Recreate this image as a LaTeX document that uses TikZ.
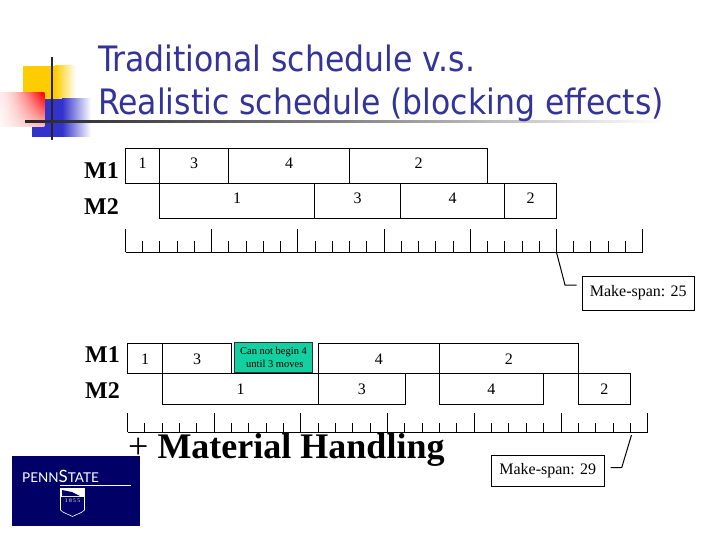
\documentclass[tikz,border=0pt]{standalone}
\usepackage{fontspec}
\setmainfont{Liberation Serif}
\newfontfamily\titlefont{DejaVu Sans Condensed}
\newfontfamily\logofont{Lato}
\definecolor{titleblue}{HTML}{333399}
\definecolor{cellgreen}{HTML}{14CF9F}
\definecolor{psunavy}{HTML}{000066}
\definecolor{decoyellow}{HTML}{FFCC00}
\definecolor{decoblue}{HTML}{3333CC}
\tikzset{
  x=1pt,y=-1pt,
  cellbox/.style={draw=black,line width=1pt,inner sep=0pt,outer sep=0pt,anchor=north west},
  celltext/.style={inner sep=0pt,font=\fontsize{16}{18}\selectfont},
  machine/.style={inner sep=0pt,anchor=west,font=\fontsize{24}{26}\selectfont\bfseries},
  titletext/.style={inner sep=0pt,anchor=base west,text=titleblue,font=\titlefont\fontsize{35}{38}\selectfont},
  spanbox/.style={draw=black,line width=1pt,fill=white,inner sep=0pt,outer sep=0pt,anchor=north west,font=\fontsize{16}{18}\selectfont},
  rule/.style={line width=1pt,draw=black}
}
\newcommand{\cellat}[7]{% name x1 x2 y1 y2 text dy
  \pgfmathsetmacro{\cw}{#3-#2}\pgfmathsetmacro{\ch}{#5-#4}
  \node[cellbox,minimum width=\cw pt,minimum height=\ch pt] (#1) at (#2,#4) {};
  \node[celltext] (#1t) at ([yshift=#7 pt]#1.center) {#6};
}
\newcommand{\rulerat}[7]{% prefix x0 step y majortop minortop n
  \foreach \i in {0,...,#7}{
    \pgfmathsetmacro{\tx}{#2+\i*#3}
    \pgfmathtruncatemacro{\m}{mod(\i,5)}
    \coordinate (#1\i) at (\tx,#4);
    \ifnum\m=0 \coordinate (#1\i top) at (\tx,#5);\else \coordinate (#1\i top) at (\tx,#6);\fi
    \draw[rule] (#1\i) -- (#1\i top);
  }
  \draw[rule] (#10) -- (#1#7);
}
\begin{document}
\begin{tikzpicture}
\useasboundingbox (0,0) rectangle (720,540);
\fill[white] (0,0) rectangle (720,540);
% decoration
\fill[decoyellow] (23,66) rectangle (55,100);
\shade[left color=decoyellow,right color=white] (55,66) rectangle (76,100);
\fill[decoblue] (32,99) rectangle (62,137);
\shade[left color=decoblue,right color=white] (62,99) rectangle (91,137);
\foreach \sx in {0,...,43}{
  \pgfmathsetmacro{\pa}{8+92*(\sx/43)^1.6}
  \pgfmathsetmacro{\pb}{2+22*(\sx/43)}
  \shade[top color=red!\pa!white,bottom color=red!\pb!white] (\sx,93) rectangle ({\sx+1.3},127);
}
\draw[line width=2pt,draw=black!85] (51.5,57) -- (51.5,140);
\shade[left color=black!85,right color=black!50] (25,120.3) rectangle (330,122.7);
\shade[left color=black!50,right color=white] (330,120.3) rectangle (665,122.7);
% title
\node[titletext] (t1) at (98,72) {Traditional schedule v.s.};
\node[titletext] (t2) at (98,115) {Realistic schedule (blocking effects)};
% top chart
\node[machine] (m1a) at (84,170.5) {M1};
\node[machine] (m2a) at (84,206.5) {M2};
\cellat{a1}{125.5}{159.5}{148.5}{183.3}{1}{2.5}
\cellat{a3}{159.5}{228.5}{148.5}{183.3}{3}{2.5}
\cellat{a4}{228.5}{349.5}{148.5}{183.3}{4}{2.5}
\cellat{a2}{349.5}{487.5}{148.5}{183.3}{2}{2.5}
\cellat{b1}{159.5}{314.5}{183.3}{218.3}{1}{2.5}
\cellat{b3}{314.5}{400.5}{183.3}{218.3}{3}{2.5}
\cellat{b4}{400.5}{504.5}{183.3}{218.3}{4}{2.5}
\cellat{b2}{504.5}{556.5}{183.3}{218.3}{2}{2.5}
\rulerat{ra}{125.5}{17.24}{252.3}{229.3}{241}{30}
\node[spanbox,minimum width=112pt,minimum height=34.3pt] (spana) at (582.3,276) {Make-span: 25};
\coordinate (elbowa) at (565,285);
\coordinate (enda) at (576.7,285);
\draw[rule] (ra25) -- (elbowa) -- (enda);
% bottom chart
\node[machine] (m1b) at (85,355) {M1};
\node[machine] (m2b) at (85,391) {M2};
\cellat{c1}{127.5}{162.5}{343.3}{373.3}{1}{-0.5}
\cellat{c3}{162.5}{231.5}{343.3}{373.3}{3}{-0.5}
\cellat{c4}{318.5}{439.3}{343.3}{373.3}{4}{-0.5}
\cellat{c2}{439.3}{578.3}{343.3}{373.3}{2}{-0.5}
\cellat{d1}{162.5}{318.5}{373.3}{404.3}{1}{0}
\cellat{d3}{318.5}{405.3}{373.3}{404.3}{3}{0}
\cellat{d4}{439.3}{543.3}{373.3}{404.3}{4}{0}
\cellat{d2}{578.3}{630.3}{373.3}{404.3}{2}{0}
\node[draw=black!80,line width=1pt,fill=cellgreen,inner sep=0pt,outer sep=0pt,anchor=north west,minimum width=78.4pt,minimum height=30.4pt,align=center,font=\fontsize{10.5}{12.5}\selectfont] (note) at (234.3,342.3) {Can not begin 4\\[0pt]\ until 3 moves};
\rulerat{rb}{127.5}{17.34}{432.3}{413.3}{423.3}{30}
\node[inner sep=0pt,anchor=base west,font=\fontsize{36}{38}\selectfont\bfseries] (mh) at (128,458) {\mdseries +\ \bfseries Material Handling};
\node[spanbox,minimum width=113pt,minimum height=31pt] (spanb) at (491.3,455.3) {Make-span: 29};
\coordinate (startb) at (631.5,435);
\coordinate (elbowb) at (621.7,467.7);
\coordinate (endb) at (610.7,467.7);
\draw[rule] (startb) -- (elbowb) -- (endb);
% logo
\fill[psunavy] (12,456) rectangle (140,525.7);
\node[inner sep=0pt,anchor=base west,text=white,font=\logofont\fontsize{13.5}{16}\selectfont] (psu) at (22,482.5) {PENN\fontsize{17}{18}\selectfont S\fontsize{13.5}{16}\selectfont TATE};
\draw[white,line width=0.7pt] (60,485) -- (131,485);
\fill[white] (60.5,488) -- (84.5,488) -- (84.5,497) -- (60.5,497) -- cycle;
\fill[psunavy] (62,490) -- (72,492) -- (80,496) -- (62,496) -- cycle;
\draw[white,line width=0.6pt] (60.5,488) -- (60.5,510) .. controls (63,513) and (68,514) .. (72.5,516.5) .. controls (77,514) and (82,513) .. (84.5,510) -- (84.5,488);
\node[inner sep=0pt,text=white,font=\fontsize{5.5}{6}\selectfont] (yr) at (72.5,500.5) {1\ 8\ 5\ 5};
\end{tikzpicture}
\end{document}
